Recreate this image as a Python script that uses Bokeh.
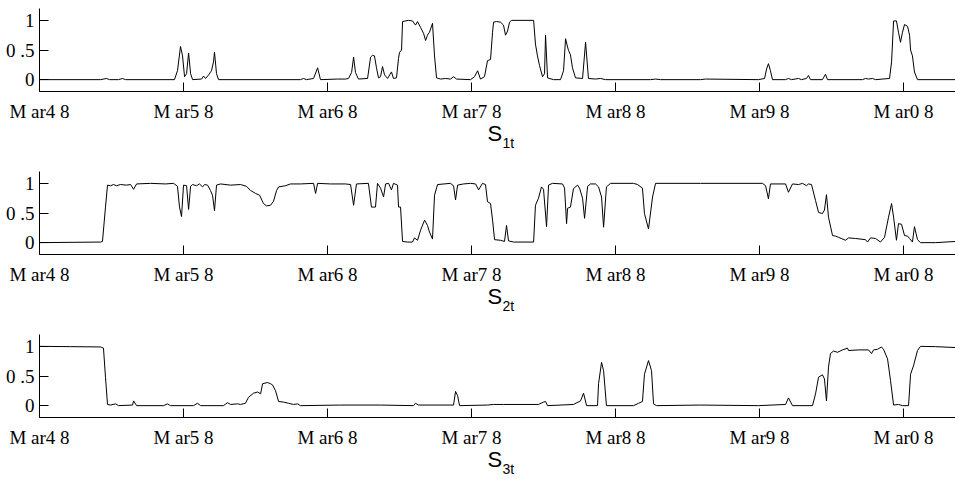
from bokeh.plotting import figure
from bokeh.layouts import column
from bokeh.models import FixedTicker, Title, ColumnDataSource
from bokeh.embed import file_html
from bokeh.resources import INLINE

# Smoothed regime probabilities, dates as decimal years
t1 = [1948.17, 1952.41, 1952.82, 1953.03, 1953.66, 1953.93, 1954.14, 1957.54, 1957.75, 1957.96,
      1958.10, 1958.24, 1958.38, 1958.52, 1958.66, 1958.80, 1959.42, 1959.56, 1959.70, 1959.91,
      1960.11, 1960.25, 1960.32, 1960.46, 1960.60, 1966.29, 1966.50, 1966.71, 1967.20, 1967.48,
      1967.68, 1968.86, 1969.42, 1969.63, 1969.84, 1969.98, 1970.11, 1970.32, 1970.95, 1971.16,
      1971.29, 1971.43, 1971.57, 1971.71, 1971.85, 1971.99, 1972.13, 1972.34, 1972.61, 1972.75,
      1972.96, 1973.10, 1973.17, 1973.31, 1973.38, 1973.79, 1974.07, 1974.28, 1974.42, 1974.63,
      1974.84, 1974.98, 1975.11, 1975.25, 1975.46, 1975.60, 1975.74, 1976.02, 1976.36, 1976.71,
      1976.92, 1977.13, 1978.10, 1978.38, 1978.59, 1978.79, 1979.07, 1979.28, 1979.49, 1979.63,
      1979.70, 1979.91, 1980.18, 1980.39, 1980.53, 1980.67, 1980.81, 1980.95, 1982.48, 1982.61,
      1982.75, 1982.89, 1983.10, 1983.24, 1983.31, 1983.45, 1983.86, 1984.35, 1984.56, 1984.70,
      1984.84, 1984.91, 1985.04, 1985.18, 1985.39, 1985.88, 1986.09, 1986.29, 1986.78, 1987.13,
      1987.48, 1990.60, 1990.95, 1991.29, 1994.07, 1994.42, 1998.10, 1998.52, 1998.66, 1998.79,
      1998.93, 1999.07, 1999.98, 2000.18, 2000.39, 2000.88, 2001.09, 2001.43, 2001.57, 2001.71,
      2002.54, 2002.75, 2002.89, 2005.32, 2005.53, 2005.74, 2006.02, 2006.23, 2007.20, 2007.34,
      2007.48, 2007.68, 2007.82, 2007.96, 2008.10, 2008.24, 2008.45, 2008.59, 2008.66, 2008.79,
      2008.93, 2009.14, 2011.78]
s1 = [0.00, 0.00, 0.02, 0.00, 0.00, 0.02, 0.00, 0.00, 0.15, 0.56,
      0.40, 0.05, 0.10, 0.45, 0.10, 0.00, 0.01, 0.06, 0.02, 0.08,
      0.15, 0.30, 0.46, 0.10, 0.00, 0.00, 0.02, 0.00, 0.02, 0.20,
      0.00, 0.01, 0.01, 0.02, 0.12, 0.38, 0.12, 0.01, 0.02, 0.38,
      0.41, 0.40, 0.20, 0.03, 0.05, 0.22, 0.08, 0.02, 0.13, 0.02,
      0.03, 0.36, 0.46, 0.50, 0.98, 1.00, 0.99, 0.92, 0.98, 0.88,
      0.78, 0.66, 0.75, 0.80, 0.95, 0.40, 0.03, 0.01, 0.02, 0.01,
      0.05, 0.01, 0.00, 0.05, 0.15, 0.01, 0.05, 0.32, 0.34, 0.80,
      0.97, 0.98, 0.97, 0.92, 0.75, 0.82, 0.97, 1.00, 1.00, 0.60,
      0.40, 0.24, 0.05, 0.10, 0.75, 0.03, 0.00, 0.00, 0.15, 0.69,
      0.55, 0.49, 0.42, 0.20, 0.03, 0.02, 0.63, 0.02, 0.01, 0.02,
      0.00, 0.00, 0.01, 0.00, 0.00, 0.01, 0.00, 0.02, 0.18, 0.27,
      0.15, 0.00, 0.00, 0.02, 0.00, 0.02, 0.00, 0.02, 0.07, 0.00,
      0.00, 0.09, 0.00, 0.00, 0.02, 0.01, 0.02, 0.00, 0.02, 0.30,
      0.99, 0.99, 0.80, 0.63, 0.80, 0.93, 0.90, 0.75, 0.50, 0.40,
      0.13, 0.00, 0.00]

t2 = [1948.17, 1952.41, 1952.54, 1952.75, 1952.89, 1953.10, 1953.31, 1953.52, 1953.79, 1954.21,
      1954.49, 1954.70, 1954.91, 1955.88, 1956.92, 1957.48, 1957.75, 1957.89, 1958.03, 1958.17,
      1958.38, 1958.52, 1958.66, 1958.80, 1959.07, 1959.28, 1959.49, 1959.63, 1959.84, 1960.04,
      1960.18, 1960.32, 1960.46, 1960.74, 1961.43, 1962.13, 1962.54, 1962.82, 1963.17, 1963.45,
      1963.72, 1963.93, 1964.21, 1964.42, 1964.63, 1964.77, 1965.25, 1965.60, 1966.29, 1967.20,
      1967.34, 1967.48, 1968.38, 1969.42, 1969.77, 1969.98, 1970.18, 1971.01, 1971.22, 1971.50,
      1971.64, 1971.85, 1972.06, 1972.20, 1972.41, 1972.61, 1972.75, 1973.03, 1973.10, 1973.24,
      1973.38, 1973.73, 1974.07, 1974.21, 1974.42, 1974.63, 1974.91, 1975.11, 1975.25, 1975.46,
      1975.60, 1975.81, 1976.71, 1976.92, 1977.06, 1977.20, 1977.61, 1978.10, 1978.45, 1978.66,
      1978.93, 1979.14, 1979.28, 1979.49, 1979.63, 1979.77, 1980.18, 1980.46, 1980.60, 1980.74,
      1981.09, 1982.48, 1982.61, 1982.82, 1983.03, 1983.17, 1983.38, 1983.52, 1983.79, 1984.49,
      1984.63, 1984.77, 1984.84, 1985.04, 1985.25, 1985.53, 1985.67, 1985.88, 1986.02, 1986.23,
      1986.43, 1986.78, 1986.99, 1987.20, 1987.34, 1987.54, 1987.82, 1989.42, 1989.70, 1990.04,
      1990.18, 1990.46, 1990.74, 1990.95, 1994.07, 1998.38, 1998.59, 1998.79, 1998.93, 1999.98,
      2000.18, 2000.46, 2000.88, 2001.16, 2001.43, 2001.57, 2001.78, 2002.06, 2002.27, 2002.54,
      2002.68, 2002.82, 2002.96, 2003.24, 2003.45, 2003.66, 2004.14, 2004.35, 2004.84, 2005.53,
      2005.67, 2005.88, 2006.23, 2006.57, 2006.85, 2007.13, 2007.34, 2007.48, 2007.68, 2007.82,
      2008.03, 2008.24, 2008.45, 2008.59, 2008.79, 2008.93, 2009.14, 2009.35, 2010.39, 2011.78]
s2 = [0.00, 0.01, 0.02, 0.60, 0.97, 0.96, 0.98, 0.96, 0.98, 0.97,
      0.98, 0.90, 0.99, 1.00, 0.99, 1.00, 0.95, 0.60, 0.44, 0.97,
      0.96, 0.56, 0.95, 0.98, 0.96, 0.99, 0.94, 0.98, 0.97, 0.88,
      0.80, 0.54, 0.97, 0.99, 0.97, 0.98, 0.95, 0.88, 0.83, 0.80,
      0.66, 0.62, 0.63, 0.70, 0.88, 0.94, 0.96, 0.99, 0.99, 1.00,
      0.83, 1.00, 0.99, 0.99, 0.98, 0.63, 0.99, 1.00, 0.60, 0.60,
      1.00, 0.92, 0.77, 0.99, 1.00, 0.89, 1.00, 0.97, 0.60, 0.60,
      0.02, 0.01, 0.01, 0.08, 0.04, 0.21, 0.38, 0.29, 0.18, 0.06,
      0.80, 0.98, 1.00, 0.96, 0.72, 0.97, 0.99, 1.00, 0.99, 0.89,
      1.00, 0.98, 0.69, 0.66, 0.38, 0.05, 0.04, 0.02, 0.29, 0.03,
      0.01, 0.01, 0.63, 0.75, 0.94, 0.90, 0.27, 0.97, 1.00, 0.99,
      0.92, 0.32, 0.58, 0.60, 0.91, 0.97, 0.92, 0.75, 0.41, 0.95,
      0.99, 0.99, 0.94, 0.77, 0.26, 0.94, 1.00, 1.00, 0.98, 0.92,
      0.49, 0.23, 0.77, 1.00, 1.00, 1.00, 0.96, 0.74, 0.99, 0.99,
      0.85, 0.99, 0.98, 1.00, 0.96, 0.99, 0.98, 0.71, 0.51, 0.49,
      0.55, 0.81, 0.43, 0.12, 0.11, 0.09, 0.04, 0.08, 0.07, 0.05,
      0.01, 0.08, 0.07, 0.01, 0.09, 0.43, 0.66, 0.43, 0.04, 0.32,
      0.31, 0.12, 0.11, 0.07, 0.01, 0.27, 0.05, 0.00, 0.00, 0.02]

t3 = [1948.17, 1950.32, 1952.41, 1952.61, 1952.75, 1952.89, 1953.10, 1953.45, 1953.66, 1954.63,
      1954.70, 1954.91, 1956.78, 1957.06, 1957.26, 1958.86, 1959.14, 1959.35, 1960.95, 1961.22,
      1961.43, 1961.92, 1962.13, 1962.47, 1962.68, 1963.03, 1963.31, 1963.52, 1963.66, 1964.00,
      1964.21, 1964.35, 1964.56, 1964.77, 1965.11, 1965.46, 1965.81, 1966.09, 1966.29, 1969.07,
      1971.85, 1974.14, 1974.28, 1974.49, 1976.92, 1977.06, 1977.20, 1977.34, 1979.28, 1979.70,
      1980.39, 1982.82, 1983.17, 1983.31, 1983.45, 1985.25, 1985.74, 1985.95, 1986.16, 1986.92,
      1986.99, 1987.20, 1987.34, 1987.54, 1989.42, 1989.77, 1990.04, 1990.18, 1990.46, 1990.67,
      1990.81, 1991.02, 1994.07, 1998.10, 1999.98, 2000.18, 2000.46, 2001.85, 2002.06, 2002.27,
      2002.54, 2002.68, 2002.82, 2002.96, 2003.10, 2003.31, 2003.59, 2003.93, 2004.28, 2004.35,
      2005.04, 2005.74, 2005.95, 2006.09, 2006.36, 2006.64, 2006.78, 2007.06, 2007.27, 2007.48,
      2007.82, 2008.10, 2008.52, 2008.66, 2008.86, 2009.14, 2009.35, 2010.39, 2011.78]
s3 = [1.00, 0.995, 0.99, 0.97, 0.48, 0.02, 0.01, 0.03, 0.00, 0.01,
      0.08, 0.00, 0.00, 0.03, 0.00, 0.00, 0.04, 0.00, 0.00, 0.05,
      0.02, 0.03, 0.02, 0.04, 0.14, 0.21, 0.23, 0.20, 0.37, 0.39,
      0.37, 0.35, 0.25, 0.07, 0.06, 0.04, 0.02, 0.03, 0.00, 0.01,
      0.01, 0.00, 0.04, 0.01, 0.01, 0.24, 0.17, 0.00, 0.01, 0.02,
      0.02, 0.02, 0.06, 0.07, 0.00, 0.02, 0.08, 0.21, 0.00, 0.00,
      0.37, 0.73, 0.59, 0.00, 0.00, 0.04, 0.07, 0.53, 0.76, 0.59,
      0.03, 0.00, 0.01, 0.00, 0.02, 0.13, 0.00, 0.00, 0.20, 0.48,
      0.52, 0.45, 0.08, 0.65, 0.88, 0.92, 0.90, 0.94, 0.97, 0.93,
      0.94, 0.94, 0.88, 0.94, 0.95, 0.99, 0.95, 0.79, 0.42, 0.01,
      0.02, 0.00, 0.00, 0.53, 0.67, 0.93, 1.00, 0.995, 0.98]

tick_years = [1948 + 2 / 12 + 10 * k for k in range(7)]
tick_labels = ["M ar4 8", "M ar5 8", "M ar6 8", "M ar7 8", "M ar8 8", "M ar9 8", "M ar0 8"]
y_ticks = [0, 0.5, 1]
y_labels = ["0", "0 .5", "1"]
subscripts = ["1t", "2t", "3t"]

SERIF = "Liberation Serif"
SANS = "Liberation Sans"


def panel(t, s, sub, height, bottom):
    p = figure(width=955, height=height, x_range=(1948 + 2 / 12, 2011.78), y_range=(-0.2, 1.2),
               output_backend="svg", toolbar_location=None,
               min_border_left=39, min_border_right=0, min_border_top=8, min_border_bottom=bottom)
    p.outline_line_color = None
    p.xgrid.visible = False
    p.ygrid.visible = False
    p.background_fill_color = "white"
    p.border_fill_color = "white"
    p.line(x="t", y="s", source=ColumnDataSource(dict(t=t, s=s)), line_color="black", line_width=1)

    for ax in (p.xaxis[0], p.yaxis[0]):
        ax.axis_line_color = "black"
        ax.axis_line_width = 1
        ax.major_tick_line_color = "black"
        ax.major_tick_in = 9
        ax.major_tick_out = 0
        ax.minor_tick_line_color = None
        ax.major_label_text_font = SERIF
        ax.major_label_text_font_size = "19px"
        ax.major_label_text_color = "black"

    p.xaxis.ticker = FixedTicker(ticks=tick_years)
    p.xaxis.major_label_overrides = {k: v for k, v in zip(tick_years, tick_labels)}
    p.xaxis.major_label_standoff = 9
    p.yaxis.ticker = FixedTicker(ticks=y_ticks)
    p.yaxis.major_label_standoff = 5
    p.yaxis.major_label_overrides = {k: v for k, v in zip(y_ticks, y_labels)}

    # panel caption: S with a lowered subscript, placed under the middle of the axis
    p.add_layout(Title(text="S", align="left", offset=448, standoff=-12,
                       text_font=SANS, text_font_size="22px", text_font_style="normal",
                       text_color="black"), "below")
    p.add_layout(Title(text=sub, align="left", offset=463, standoff=-14,
                       text_font=SANS, text_font_size="14px", text_font_style="normal",
                       text_color="black"), "below")
    return p


p1 = panel(t1, s1, subscripts[0], 163, 72)
p2 = panel(t2, s2, subscripts[1], 163, 72)
p3 = panel(t3, s3, subscripts[2], 153, 62)

layout = column(p1, p2, p3, spacing=0)
open("out.html", "w").write(file_html(layout, INLINE))
